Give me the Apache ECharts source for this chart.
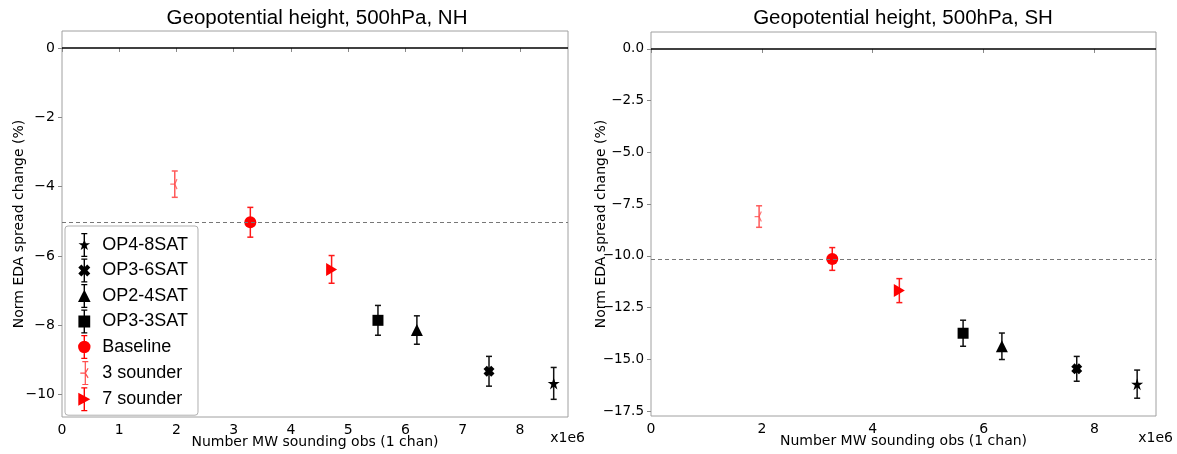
<!DOCTYPE html>
<html>
<head>
<meta charset="utf-8">
<script src="https://cdn.jsdelivr.net/npm/echarts@6/dist/echarts.min.js"></script>
<style>
html,body{margin:0;padding:0;background:#fff;}
#chart{width:1177px;height:454px;}
</style>
</head>
<body>
<div id="chart"></div>
<script>
// ---------- data ----------
const expNames = ['OP4-8SAT', 'OP3-6SAT', 'OP2-4SAT', 'OP3-3SAT', 'Baseline', '3 sounder', '7 sounder'];
// NH panel (x in 1e6 obs, y in %)
const nhObs = [8.59, 7.46, 6.20, 5.52, 3.29, 1.97, 4.71];
const nhChange = [-9.68, -9.33, -8.14, -7.86, -5.03, -3.93, -6.39];
const nhErr = [0.46, 0.43, 0.41, 0.43, 0.43, 0.38, 0.40];
// SH panel
const shObs = [8.77, 7.68, 6.33, 5.63, 3.27, 1.95, 4.48];
const shChange = [-16.20, -15.46, -14.37, -13.74, -10.15, -8.10, -11.68];
const shErr = [0.68, 0.60, 0.64, 0.63, 0.55, 0.52, 0.58];
// ticks
const nhXTicks = [0, 1, 2, 3, 4, 5, 6, 7, 8];
const nhYTicks = [0, -2, -4, -6, -8, -10];
const shXTicks = [0, 2, 4, 6, 8];
const shYTicks = [0, -2.5, -5, -7.5, -10, -12.5, -15, -17.5];
const titles = ['Geopotential height, 500hPa, NH', 'Geopotential height, 500hPa, SH'];
const yLabel = 'Norm EDA spread change (%)';
const xLabel = 'Number MW sounding obs (1 chan)';
const xScaleNote = 'x1e6';

// ---------- styles ----------
const RED = '#ff0000';
const LRED = '#ff4d4d';
const BLK = '#000000';
const markerColor = [BLK, BLK, BLK, BLK, RED, LRED, RED];
const errColor = ['#111', '#111', '#111', '#111', '#ff1a1a', '#ff5a5a', '#ff1a1a'];
const STAR = 'path://M10,0L12.23,6.93L19.51,6.91L13.61,11.17L15.88,18.09L10,13.8L4.12,18.09L6.39,11.17L0.49,6.91L7.77,6.93Z';
const XMARK = 'path://M6,0L10,4L14,0L20,6L16,10L20,14L14,20L10,16L6,20L0,14L4,10L0,6Z';
const TRIRIGHT = 'path://M0,0L12,6L0,12Z';
const TRILEFT = 'path://M12,6M6,6L0,6M6,6L9,0.8M6,6L9,11.2';
const symbols = [STAR, XMARK, 'triangle', 'rect', 'circle', TRILEFT, TRIRIGHT];
const symSizes = [[12, 12], [11, 11], [12, 12], [11, 11], [12, 12], [9, 10], [11, 13]];

// legend icons (marker + error bar), box 13 x 24
const bar = 'M5.8,0H7.2V24H5.8Z M3.5,0H9.5V1.3H3.5Z M3.5,22.7H9.5V24H3.5Z ';
const legendIcons = [
  'path://' + bar + 'M6.5,6L8,10.2L12.3,10.2L8.8,12.8L10.1,17L6.5,14.5L2.9,17L4.2,12.8L0.7,10.2L5,10.2Z',
  'path://' + bar + 'M3.6,6L6.5,8.9L9.4,6L12.5,9.1L9.6,12L12.5,14.9L9.4,18L6.5,15.1L3.6,18L0.5,14.9L3.4,12L0.5,9.1Z',
  'path://' + bar + 'M6.5,5.5L12.8,18L0.2,18Z',
  'path://' + bar + 'M0.6,6H12.4V18H0.6Z',
  'path://' + bar + 'M0.3,12A6.2,6.2 0 1 1 12.7,12A6.2,6.2 0 1 1 0.3,12Z',
  'path://M6.5,0V24M3.5,0.6H9.5M3.5,23.4H9.5M6.5,12L1.5,12M6.5,12L9.3,7.2M6.5,12L9.3,16.8',
  'path://' + bar + 'M0.5,5.5L12.5,12L0.5,18.5Z'
];

// ---------- layout ----------
const grids = [
  {left: 62, top: 31, width: 506, height: 386},
  {left: 651, top: 32, width: 505, height: 384}
];
const xMax = [8.84, 9.11];
const yMin = [-10.65, -17.74];
const yMax = [0.49, 0.82];
const panelData = [
  {x: nhObs, y: nhChange, e: nhErr, xt: nhXTicks, yt: nhYTicks},
  {x: shObs, y: shChange, e: shErr, xt: shXTicks, yt: shYTicks}
];

const FONT_TICK = 'DejaVu Sans';
const fmtY = [
  v => (v === 0 ? '0' : (v < 0 ? '\u2212' : '') + Math.abs(v)),
  v => (v < 0 ? '\u2212' : '') + Math.abs(v).toFixed(1)
];

const xAxes = [], yAxes = [], series = [];
panelData.forEach((pd, p) => {
  xAxes.push({
    type: 'value', gridIndex: p, min: 0, max: xMax[p],
    name: xLabel, nameLocation: 'middle', nameGap: 18, nameMoveOverlap: false,
    nameTextStyle: {fontFamily: FONT_TICK, fontSize: 14, color: '#000'},
    axisLine: {show: false},
    axisTick: {show: true, length: 4, lineStyle: {color: '#888'}, customValues: pd.xt},
    axisLabel: {fontFamily: FONT_TICK, fontSize: 14, color: '#000', margin: 6, customValues: pd.xt,
      formatter: v => String(v)},
    splitLine: {show: false}
  });
  yAxes.push({
    type: 'value', gridIndex: p, min: yMin[p], max: yMax[p],
    name: yLabel, nameLocation: 'middle', nameGap: p === 0 ? 36 : 43, nameRotate: 90, nameMoveOverlap: false,
    nameTextStyle: {fontFamily: FONT_TICK, fontSize: 14, color: '#000'},
    axisLine: {show: false},
    axisTick: {show: true, length: 4, lineStyle: {color: '#888'}, customValues: pd.yt},
    axisLabel: {fontFamily: FONT_TICK, fontSize: p === 0 ? 14 : 13.5, color: '#000', margin: 7, customValues: pd.yt,
      formatter: fmtY[p]},
    splitLine: {show: false}
  });
  // reference lines
  series.push({
    type: 'line', xAxisIndex: p, yAxisIndex: p, data: [], silent: true,
    markLine: {
      silent: true, symbol: 'none', animation: false, label: {show: false},
      data: [
        {yAxis: 0, lineStyle: {color: '#000', width: 1.5, type: 'solid'}},
        {yAxis: pd.y[4], lineStyle: {color: '#777', width: 1, type: [4, 3]}}
      ]
    }
  });
  expNames.forEach((name, i) => {
    const col = errColor[i];
    series.push({
      type: 'custom', name: name, xAxisIndex: p, yAxisIndex: p, z: 3,
      silent: true, animation: false,
      data: [[pd.x[i], pd.y[i], pd.e[i]]],
      renderItem: (params, api) => {
        const x = api.value(0), y = api.value(1), e = api.value(2);
        const t = api.coord([x, y + e]);
        const b = api.coord([x, y - e]);
        const cw = 3;
        const st = {stroke: col, lineWidth: 1.5, fill: null};
        return {type: 'group', children: [
          {type: 'line', shape: {x1: t[0], y1: t[1], x2: b[0], y2: b[1]}, style: st},
          {type: 'line', shape: {x1: t[0] - cw, y1: t[1], x2: t[0] + cw, y2: t[1]}, style: st},
          {type: 'line', shape: {x1: b[0] - cw, y1: b[1], x2: b[0] + cw, y2: b[1]}, style: st}
        ]};
      }
    });
    const isLine = (i === 5);
    series.push({
      type: 'scatter', name: name, xAxisIndex: p, yAxisIndex: p, z: 4,
      silent: true, animation: false,
      symbol: symbols[i], symbolSize: symSizes[i],
      itemStyle: isLine
        ? {color: 'rgba(0,0,0,0)', borderColor: markerColor[i], borderWidth: 1.2}
        : {color: markerColor[i], opacity: 1},
      data: [[pd.x[i], pd.y[i]]]
    });
  });
});

const legendData = expNames.map((n, i) => (i === 5
  ? {name: n, icon: legendIcons[i], itemStyle: {color: 'rgba(0,0,0,0)', borderColor: LRED, borderWidth: 1.2}}
  : {name: n, icon: legendIcons[i], itemStyle: {color: i < 4 ? BLK : RED, borderWidth: 0}}));

const option = {
  animation: false,
  backgroundColor: '#fff',
  grid: grids.map(g => Object.assign({show: true, borderColor: '#a0a0a0', borderWidth: 1, backgroundColor: 'transparent'}, g)),
  xAxis: xAxes,
  yAxis: yAxes,
  legend: {
    data: legendData, orient: 'vertical', left: 65, top: 226,
    itemWidth: 26, itemHeight: 24, itemGap: 1.5,
    padding: [7, 10, 4, 13], borderColor: '#b0b0b0', borderWidth: 1, borderRadius: 3,
    backgroundColor: '#fff', selectedMode: false, z: 10,
    textStyle: {fontFamily: 'Liberation Sans', fontSize: 18, color: '#000'}
  },
  graphic: [
    {type: 'text', x: 317, y: 18, style: {text: titles[0], fontFamily: 'Liberation Sans', fontSize: 20.5, fill: '#000', textAlign: 'center', textVerticalAlign: 'middle'}},
    {type: 'text', x: 903, y: 18, style: {text: titles[1], fontFamily: 'Liberation Sans', fontSize: 20.5, fill: '#000', textAlign: 'center', textVerticalAlign: 'middle'}},
    {type: 'text', x: 585, y: 438, style: {text: xScaleNote, fontFamily: FONT_TICK, fontSize: 14, fill: '#000', textAlign: 'right', textVerticalAlign: 'middle'}},
    {type: 'text', x: 1173, y: 438, style: {text: xScaleNote, fontFamily: FONT_TICK, fontSize: 14, fill: '#000', textAlign: 'right', textVerticalAlign: 'middle'}}
  ],
  series: series
};

const chart = echarts.init(document.getElementById('chart'), null, {renderer: 'canvas'});
chart.setOption(option);
</script>
</body>
</html>
